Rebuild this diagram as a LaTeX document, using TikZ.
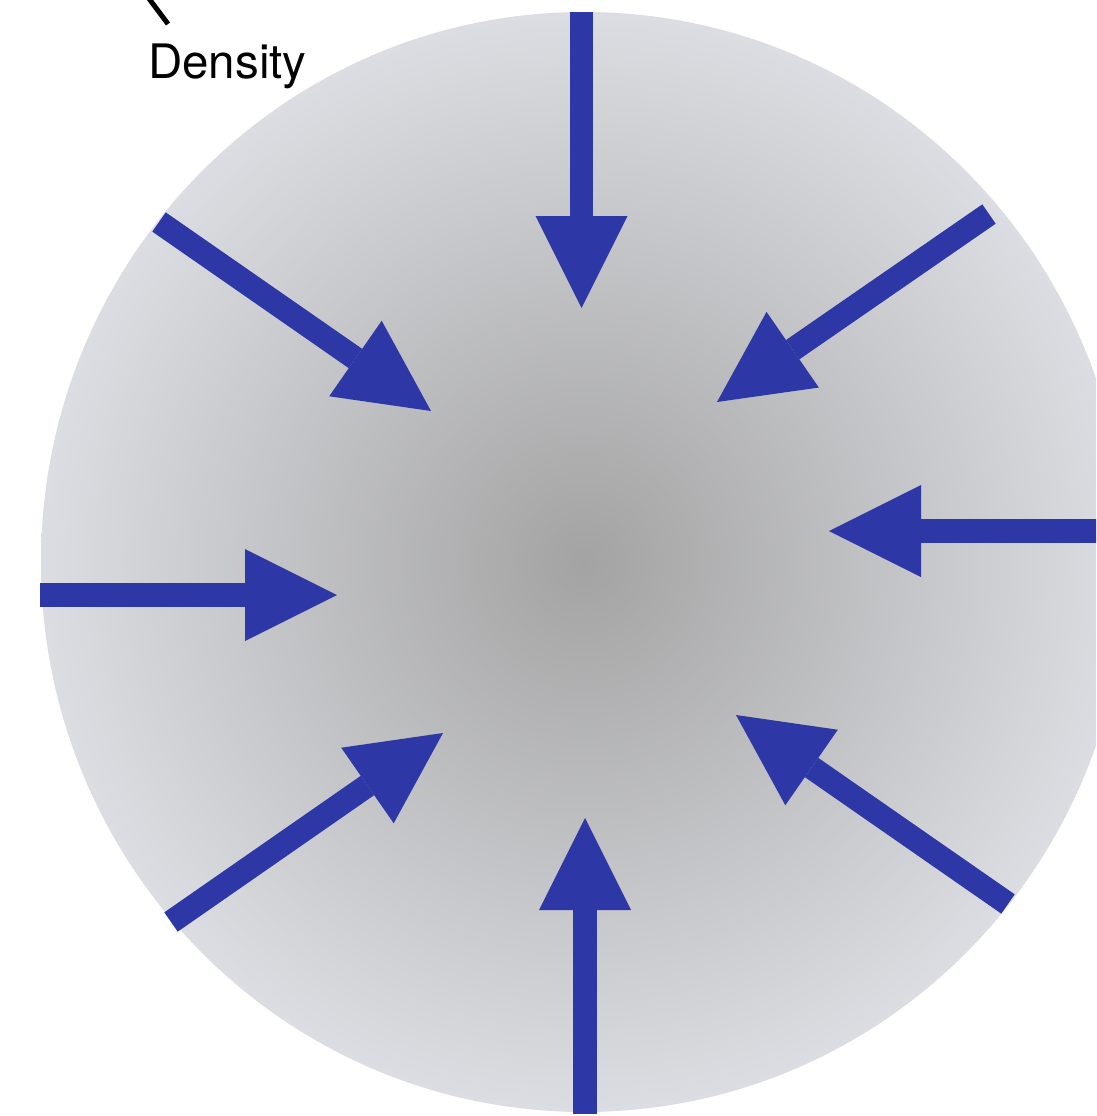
\documentclass[tikz,border=0pt]{standalone}
\usepackage{fontspec}
\setmainfont{TeX Gyre Heros}
\usetikzlibrary{arrows.meta}
\definecolor{arrowblue}{RGB}{46,55,166}
\definecolor{centergray}{RGB}{163,163,163}
\definecolor{edgegray}{RGB}{220,221,226}
\tikzset{
  inflow/.style={draw=arrowblue, line width=23.5pt,
    -{Triangle[length=92pt,width=92pt,line width=0pt,fill=arrowblue]}},
  pointer/.style={draw=black, line width=5pt}
}
\begin{document}
\begin{tikzpicture}[x=1pt,y=-1pt]
\useasboundingbox (0,0) rectangle (1096,1116);
\clip (0,0) rectangle (1096,1116);
% density sphere
\shade[inner color=centergray, outer color=edgegray] (584,562) ellipse [x radius=543, y radius=550];
% coordinates
\coordinate (tS) at (581.5,12);   \coordinate (tE) at (581.5,308);
\coordinate (bS) at (585,1114);   \coordinate (bE) at (585,818);
\coordinate (lS) at (40,595);     \coordinate (lE) at (337,595);
\coordinate (rS) at (1120,531);   \coordinate (rE) at (829,531);
\coordinate (tlS) at (159,222);   \coordinate (tlE) at (431,411);
\coordinate (trS) at (989,214);   \coordinate (trE) at (717,402);
\coordinate (blS) at (171,922);   \coordinate (blE) at (443,733);
\coordinate (brS) at (1008,904);  \coordinate (brE) at (736,715);
\draw[inflow] (tS) -- (tE);
\draw[inflow] (bS) -- (bE);
\draw[inflow] (lS) -- (lE);
\draw[inflow] (rS) -- (rE);
\draw[inflow] (tlS) -- (tlE);
\draw[inflow] (trS) -- (trE);
\draw[inflow] (blS) -- (blE);
\draw[inflow] (brS) -- (brE);
% label and pointer
\coordinate (pA) at (135,-20);
\coordinate (pB) at (168,24);
\draw[pointer] (pA) -- (pB);
\node[anchor=base west, inner sep=0pt, font=\fontsize{47.5}{56}\selectfont] (label) at (148,78) {Density};
\end{tikzpicture}
\end{document}
